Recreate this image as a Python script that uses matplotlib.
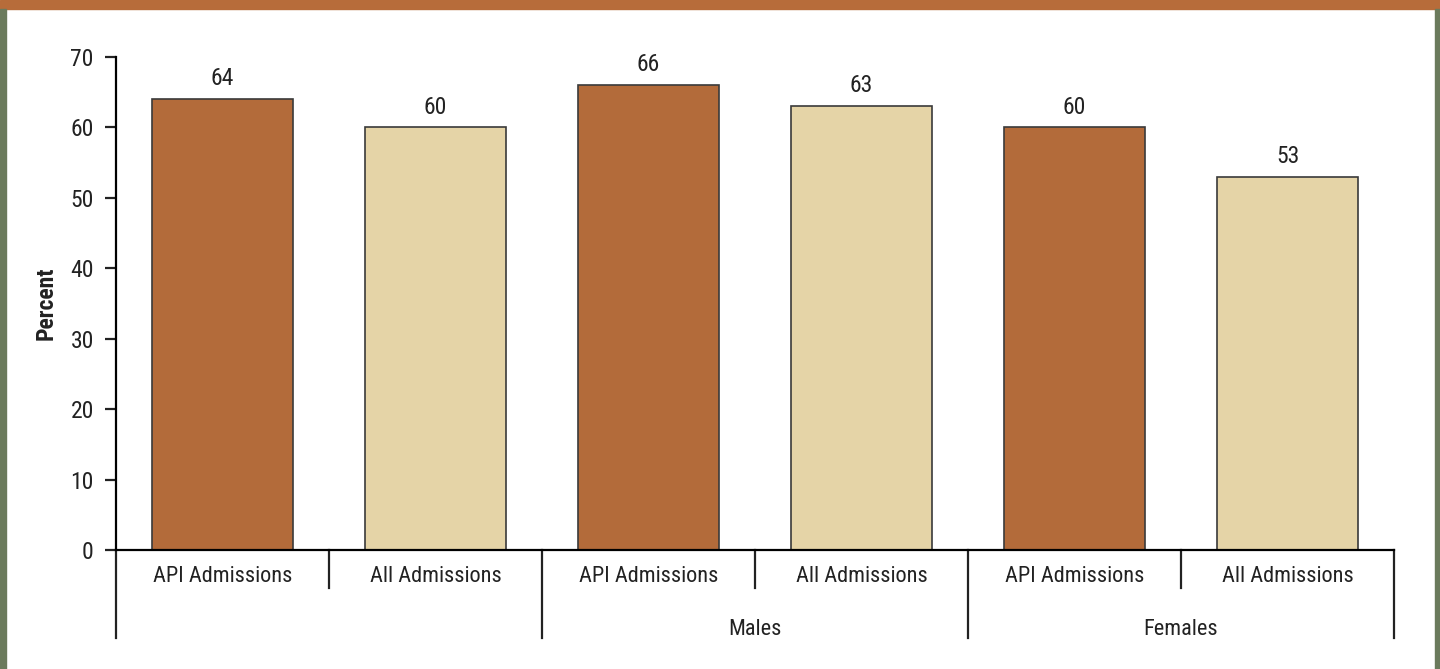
import matplotlib
matplotlib.use('Agg')
import matplotlib.pyplot as plt
from matplotlib.patches import Rectangle

groups = ['', 'Males', 'Females']
bar_labels = ['API Admissions', 'All Admissions']
api_values = [64, 66, 60]
all_values = [60, 63, 53]

brown = '#B36B3A'
beige = '#E5D4A7'
border_green = '#6B7A5C'
ink = '#222222'

plt.rcParams['font.family'] = ['Roboto Condensed', 'DejaVu Sans']

fig = plt.figure(figsize=(14.4, 6.69), dpi=100)
W, H = 1440, 669
ax = fig.add_axes([116 / W, 1 - 550 / H, (1394 - 116) / W, (550 - 57) / H])

# interleave values: API, All for each group
values = []
colors = []
labels = []
for a, b in zip(api_values, all_values):
    values += [a, b]
    colors += [brown, beige]
    labels += bar_labels
xs = list(range(len(values)))

ax.bar(xs, values, width=0.66, color=colors, edgecolor='#3a3a3a', linewidth=1.2)
for x, v in zip(xs, values):
    ax.annotate(str(v), (x, v), xytext=(0, 10), textcoords='offset points',
                ha='center', va='baseline', fontsize=17, color=ink)

ax.set_xlim(-0.5, len(values) - 0.5)
ax.set_ylim(0, 70)
ax.set_yticks(range(0, 71, 10))
ax.tick_params(axis='y', length=8, width=1.6, labelsize=17, pad=8, colors=ink)
ax.set_xticks([])
for s in ['top', 'right']:
    ax.spines[s].set_visible(False)
ax.spines['left'].set_linewidth(1.6)
ax.spines['bottom'].set_linewidth(1.6)
ax.set_ylabel('Percent', fontsize=17, fontweight='bold', color=ink)
ax.yaxis.set_label_coords((58 - 116) / (1394 - 116), 0.5)

tr = ax.get_xaxis_transform()
# left axis extension
ax.plot([-0.5, -0.5], [0, -0.1785], transform=tr, color=ink, lw=1.6, clip_on=False)
# bar labels and separators
for x, lab in zip(xs, labels):
    ax.text(x, -0.053, lab, transform=tr, ha='center', va='center', fontsize=16, color=ink)
for i in range(len(values)):
    edge = i + 0.5
    if i % 2 == 0:
        ax.plot([edge, edge], [0, -0.077], transform=tr, color=ink, lw=1.6, clip_on=False)
    else:
        ax.plot([edge, edge], [0, -0.1785], transform=tr, color=ink, lw=1.6, clip_on=False)
for g, name in enumerate(groups):
    ax.text(2 * g + 0.5, -0.162, name, transform=tr, ha='center', va='center', fontsize=16, color=ink)

# frame decorations
fig.patches.append(Rectangle((0, 1 - 9 / H), 1, 9 / H, transform=fig.transFigure, color='#B76C3A', zorder=0))
fig.patches.append(Rectangle((0, 0), 6 / W, 1 - 9 / H, transform=fig.transFigure, color=border_green, zorder=0))
fig.patches.append(Rectangle((1 - 5 / W, 0), 5 / W, 1 - 9 / H, transform=fig.transFigure, color=border_green, zorder=0))

fig.savefig('out.png', dpi=100)
